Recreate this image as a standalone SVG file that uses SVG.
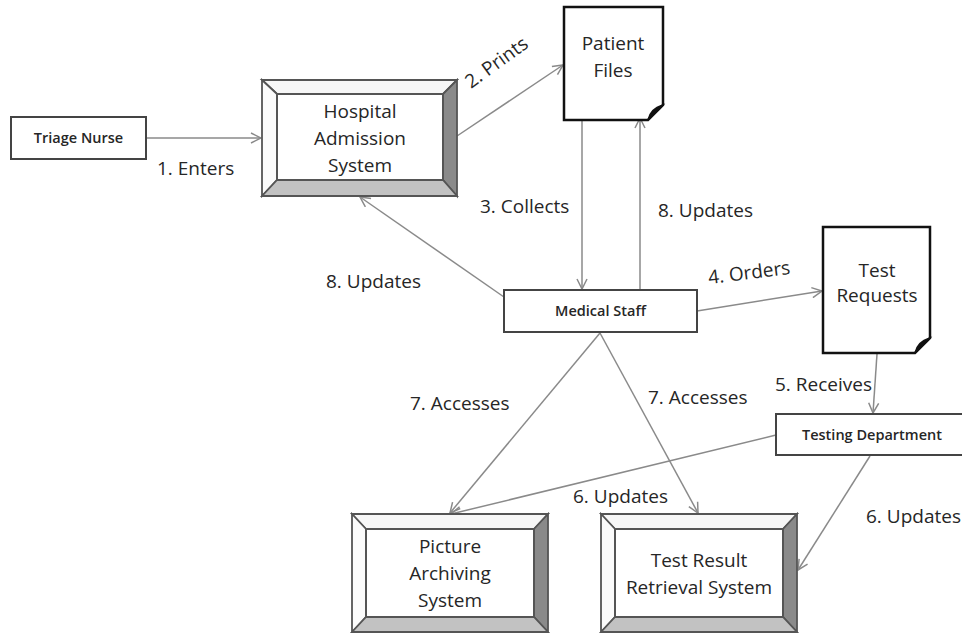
<svg xmlns="http://www.w3.org/2000/svg" width="962" height="633" viewBox="0 0 962 633">
<style>
  .box{fill:#fff;stroke:#444;stroke-width:2}
  .doc{fill:#fff;stroke:#111;stroke-width:2.5;stroke-linejoin:miter}
  .bv-top{fill:#f7f7f7;stroke:#555;stroke-width:1.8}
  .bv-left{fill:#fbfbfb;stroke:#555;stroke-width:1.8}
  .bv-right{fill:#8a8a8a;stroke:#555;stroke-width:1.8}
  .bv-bottom{fill:#c2c2c2;stroke:#555;stroke-width:1.8}
  .inner{fill:#fff;stroke:#555;stroke-width:2}
  .conn{fill:none;stroke:#8a8a8a;stroke-width:1.5}
  .t{font-family:"Open Sans","Noto Sans","Liberation Sans",sans-serif;fill:#262626}
  .lbl{font-size:19px}
  .big{font-size:19px;text-anchor:middle}
  .small{font-size:14.5px;text-anchor:middle;font-weight:600}
</style>
<defs>
  <marker id="arr" viewBox="0 0 12 12" refX="11" refY="6" markerWidth="12" markerHeight="12" markerUnits="userSpaceOnUse" orient="auto">
    <path d="M1,1 L11,6 L1,11" fill="none" stroke="#8a8a8a" stroke-width="1.5"/>
  </marker>
</defs>
<rect width="962" height="633" fill="#fff"/>

<g id="connectors">
  <line class="conn" x1="146" y1="138" x2="261" y2="138" marker-end="url(#arr)"/>
  <line class="conn" x1="457" y1="136" x2="563" y2="65" marker-end="url(#arr)"/>
  <line class="conn" x1="582" y1="121" x2="582" y2="289" marker-end="url(#arr)"/>
  <line class="conn" x1="640" y1="290" x2="640" y2="118" marker-end="url(#arr)"/>
  <line class="conn" x1="504" y1="297" x2="360" y2="197" marker-end="url(#arr)"/>
  <line class="conn" x1="697" y1="311" x2="822" y2="291" marker-end="url(#arr)"/>
  <line class="conn" x1="877" y1="354" x2="873" y2="413" marker-end="url(#arr)"/>
  <line class="conn" x1="600" y1="333" x2="450" y2="513" marker-end="url(#arr)"/>
  <line class="conn" x1="600" y1="333" x2="698" y2="513" marker-end="url(#arr)"/>
  <line class="conn" x1="776" y1="435" x2="451" y2="514" marker-end="url(#arr)"/>
  <line class="conn" x1="870" y1="456" x2="798" y2="570" marker-end="url(#arr)"/>
</g>

<g id="triage-nurse">
  <rect class="box" x="11" y="117" width="135" height="42"/>
  <text class="t small" x="78.5" y="143">Triage Nurse</text>
</g>

<g id="hospital-admission-system">
  <polygon class="bv-top" points="262,80 457,80 443,94 277,94"/>
  <polygon class="bv-left" points="262,80 277,94 277,180 262,196"/>
  <polygon class="bv-right" points="457,80 457,196 443,180 443,94"/>
  <polygon class="bv-bottom" points="262,196 277,180 443,180 457,196"/>
  <rect class="inner" x="277" y="94" width="166" height="86"/>
  <text class="t big" x="360" y="118">Hospital</text>
  <text class="t big" x="360" y="145">Admission</text>
  <text class="t big" x="360" y="172">System</text>
</g>

<g id="patient-files">
  <path class="doc" d="M564,7 H663 V105 L648,120 H564 Z"/>
  <path d="M648,120 C650,112 654,108 663,105 C658,111 654,113 648,120 Z" fill="#111" stroke="#111" stroke-width="1.5"/>
  <text class="t big" x="613" y="50">Patient</text>
  <text class="t big" x="613" y="77">Files</text>
</g>

<g id="medical-staff">
  <rect class="box" x="504" y="290" width="193" height="42"/>
  <text class="t small" x="600.5" y="316">Medical Staff</text>
</g>

<g id="test-requests">
  <path class="doc" d="M823,227 H930 V338 L915,353 H823 Z"/>
  <path d="M915,353 C917,345 921,341 930,338 C925,344 921,346 915,353 Z" fill="#111" stroke="#111" stroke-width="1.5"/>
  <text class="t big" x="877" y="277">Test</text>
  <text class="t big" x="877" y="302">Requests</text>
</g>

<g id="testing-department">
  <rect class="box" x="776" y="414" width="192" height="41"/>
  <text class="t small" x="872" y="440">Testing Department</text>
</g>

<g id="picture-archiving-system">
  <polygon class="bv-top" points="352,514 548,514 534,529 366,529"/>
  <polygon class="bv-left" points="352,514 366,529 366,617 352,632"/>
  <polygon class="bv-right" points="548,514 548,632 534,617 534,529"/>
  <polygon class="bv-bottom" points="352,632 366,617 534,617 548,632"/>
  <rect class="inner" x="366" y="529" width="168" height="88"/>
  <text class="t big" x="450" y="553">Picture</text>
  <text class="t big" x="450" y="580">Archiving</text>
  <text class="t big" x="450" y="607">System</text>
</g>

<g id="test-result-retrieval-system">
  <polygon class="bv-top" points="601,514 797,514 783,529 615,529"/>
  <polygon class="bv-left" points="601,514 615,529 615,617 601,632"/>
  <polygon class="bv-right" points="797,514 797,632 783,617 783,529"/>
  <polygon class="bv-bottom" points="601,632 615,617 783,617 797,632"/>
  <rect class="inner" x="615" y="529" width="168" height="88"/>
  <text class="t big" x="699" y="567">Test Result</text>
  <text class="t big" x="699" y="594">Retrieval System</text>
</g>

<g id="labels">
  <text class="t lbl" x="157" y="175">1. Enters</text>
  <text class="t lbl" transform="translate(471,89) rotate(-36)">2. Prints</text>
  <text class="t lbl" x="480" y="213">3. Collects</text>
  <text class="t lbl" x="658" y="217">8. Updates</text>
  <text class="t lbl" x="326" y="288">8. Updates</text>
  <text class="t lbl" transform="translate(709,284) rotate(-7)">4. Orders</text>
  <text class="t lbl" x="775" y="391">5. Receives</text>
  <text class="t lbl" x="648" y="404">7. Accesses</text>
  <text class="t lbl" x="410" y="410">7. Accesses</text>
  <text class="t lbl" x="573" y="503">6. Updates</text>
  <text class="t lbl" x="866" y="523">6. Updates</text>
</g>
</svg>
